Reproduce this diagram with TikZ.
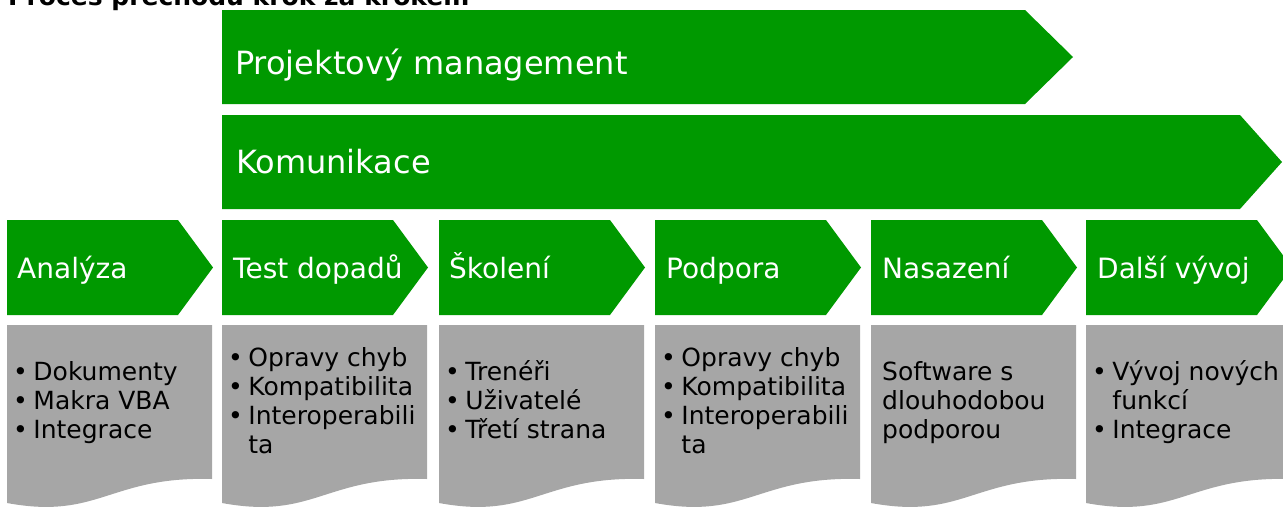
\documentclass[tikz,border=0pt]{standalone}
\usepackage{fontspec}
\setmainfont{DejaVu Sans}
\definecolor{pmgreen}{RGB}{0,153,0}
\definecolor{pmgray}{RGB}{166,166,166}
\tikzset{
    stepbox/.style={fill=pmgreen},
    docbox/.style={fill=pmgray},
    biglabel/.style={text=white, anchor=base west, inner sep=0pt, font=\fontsize{32}{38}\selectfont},
    steplabel/.style={text=white, anchor=base west, inner sep=0pt, font=\fontsize{28}{34}\selectfont},
    doctext/.style={anchor=west, inner sep=0pt, font=\fontsize{25}{29}\selectfont}
}
% green step arrow, left edge at #1
\newcommand{\stepshape}[1]{\fill[stepbox] (#1,220) -- ++(171,0) -- ++(35,47.5) -- ++(-35,47.5) -- ++(-171,0) -- cycle;}
% grey sheet with wavy bottom, left edge at #1
\newcommand{\docshape}[1]{\begin{scope}[xshift=#1pt]
        \fill[docbox] (0,325) -- (205,325) -- (205,479) .. controls (102.5,476) and (92,520) .. (0,503) -- cycle;
    \end{scope}}
\begin{document}
\begin{tikzpicture}[x=1pt,y=-1pt]
        \useasboundingbox (0,0) rectangle (1283,509);
        \clip (0,0) rectangle (1283,509);

        \node[anchor=base west, inner sep=0pt, font=\bfseries\fontsize{25}{30}\selectfont] (titul) at (8,5) {Proces přechodu krok za krokem};

        \fill[stepbox] (222,10) -- (1025,10) -- (1073,57) -- (1025,104) -- (222,104) -- cycle;
        \node[biglabel] (projekt) at (235,74) {Projektový management};

        \fill[stepbox] (222,115) -- (1240,115) -- (1282,162) -- (1240,209) -- (222,209) -- cycle;
        \node[biglabel] (komunikace) at (236,173) {Komunikace};

        \stepshape{7}
        \stepshape{222}
        \stepshape{439}
        \stepshape{655}
        \stepshape{871}
        \stepshape{1086}

        \node[steplabel] (analyza) at (17,278) {Analýza};
        \node[steplabel] (test) at (233,278) {Test dopadů};
        \node[steplabel] (skoleni) at (449,278) {Školení};
        \node[steplabel] (podpora) at (666,278) {Podpora};
        \node[steplabel] (nasazeni) at (882,278) {Nasazení};
        \node[steplabel] (vyvoj) at (1097,278) {Další vývoj};

        \docshape{7}
        \docshape{222}
        \docshape{439}
        \docshape{655}
        \docshape{871}
        \docshape{1086}

        \node[doctext] (analyzatext) at (13,404) {\begin{tabular}{@{}l@{\hspace{5.5pt}}l@{}}•&Dokumenty\\•&Makra VBA\\•&Integrace\end{tabular}};
        \node[doctext] (testtext) at (228,404) {\begin{tabular}{@{}l@{\hspace{5.5pt}}l@{}}•&Opravy chyb\\•&Kompatibilita\\•&Interoperabili\\&ta\end{tabular}};
        \node[doctext] (skolenitext) at (445,404) {\begin{tabular}{@{}l@{\hspace{5.5pt}}l@{}}•&Trenéři\\•&Uživatelé\\•&Třetí strana\end{tabular}};
        \node[doctext] (podporatext) at (661,404) {\begin{tabular}{@{}l@{\hspace{5.5pt}}l@{}}•&Opravy chyb\\•&Kompatibilita\\•&Interoperabili\\&ta\end{tabular}};
        \node[doctext] (nasazenitext) at (882,404) {\begin{tabular}{@{}l@{}}Software s\\dlouhodobou\\podporou\end{tabular}};
        \node[doctext] (vyvojtext) at (1092,404) {\begin{tabular}{@{}l@{\hspace{5.5pt}}l@{}}•&Vývoj nových\\&funkcí\\•&Integrace\end{tabular}};
    \end{tikzpicture}
\end{document}
